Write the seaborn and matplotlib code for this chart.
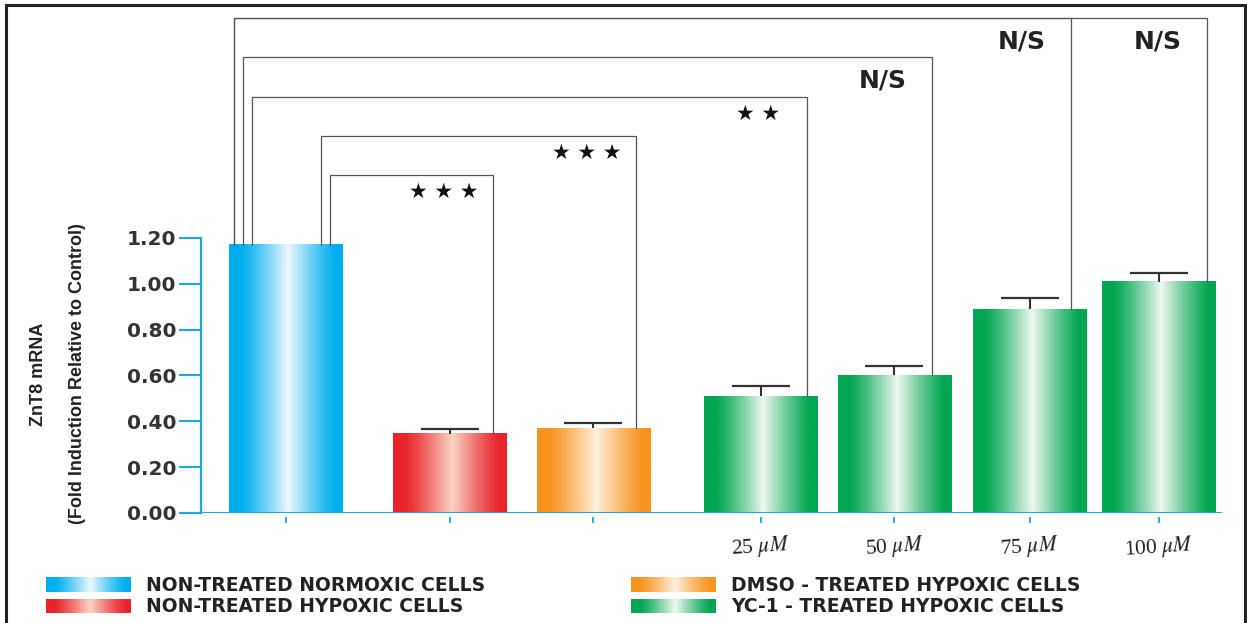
import numpy as np
import pandas as pd
import matplotlib
matplotlib.use("Agg")
import matplotlib.pyplot as plt
import matplotlib.transforms as mtransforms
import seaborn as sns
from matplotlib.patches import Rectangle, Patch
from matplotlib.legend_handler import HandlerBase
from matplotlib.colors import to_rgb
from matplotlib import font_manager

# ---------------- data ----------------
groups = [
    "NON-TREATED NORMOXIC CELLS",
    "NON-TREATED HYPOXIC CELLS",
    "DMSO - TREATED HYPOXIC CELLS",
    "YC-1 - TREATED HYPOXIC CELLS",
]
bar_group = [0, 1, 2, 3, 3, 3, 3]
dose_labels = ["", "", "", r"25 $\mu M$", r"50 $\mu M$", r"75 $\mu M$", r"100 $\mu M$"]
fold_change = [1.17, 0.345, 0.37, 0.51, 0.60, 0.89, 1.01]
sem_upper = [0.0, 0.022, 0.022, 0.043, 0.04, 0.05, 0.036]

# comparisons against the normoxic control (bar index, significance)
compared_bar = [1, 2, 3, 4, 5, 6]
significance = ["★ ★ ★", "★ ★ ★", "★ ★", "N/S", "N/S", "N/S"]

# ---------------- style / layout ----------------
group_colors = ["#00AEEF", "#E8242B", "#F7941E", "#00A651"]
group_light = ["#EEF8FE", "#FBD5C6", "#FEF0DE", "#F0F8F1"]
axis_blue = "#1BA9E1"

slot = [0.0, 1.233, 2.312, 3.568, 4.575, 5.594, 6.564]
bar_width = 0.85
bracket_left = [0.331, 0.263, -0.256, -0.323, -0.391, -0.391]
bracket_right = [0.323, 0.320, 0.349, 0.282, 0.308, 0.361]
bracket_level = [1.475, 1.645, 1.815, 1.99, 2.16, 2.16]

sns.set_theme(style="white")
installed = {f.name for f in font_manager.fontManager.ttflist}
narrow = "Liberation Sans Narrow" if "Liberation Sans Narrow" in installed else "Liberation Sans"
plt.rcParams["font.family"] = ["DejaVu Sans"]
plt.rcParams["mathtext.fontset"] = "stix"


def gradient_colors(edge, light, n):
    t = (np.arange(n) + 0.5) / n
    f = np.clip(1 - np.abs(t - 0.52) / 0.42, 0, 1) ** 1.2
    e = np.array(to_rgb(edge))
    l = np.array(to_rgb(light))
    return e[None, :] * (1 - f[:, None]) + l[None, :] * f[:, None]


class GradientPatchHandler(HandlerBase):
    def __init__(self, edge, light, n=60):
        super().__init__()
        self.edge, self.light, self.n = edge, light, n

    def create_artists(self, legend, orig_handle, xdescent, ydescent,
                       width, height, fontsize, trans):
        cols = gradient_colors(self.edge, self.light, self.n)
        step = width / self.n
        return [Rectangle((-xdescent + i * step, -ydescent), step * 1.3, height,
                          facecolor=c, edgecolor="none", lw=0, transform=trans)
                for i, c in enumerate(cols)]


W, H = 1247, 623
fig = plt.figure(figsize=(W / 100, H / 100), dpi=100)
fig.patch.set_facecolor("white")
ax = fig.add_axes([201 / W, 110 / H, 1021 / W, 503 / H])

df = pd.DataFrame({
    "pos": slot,
    "fold": fold_change,
    "group": [groups[g] for g in bar_group],
})
sns.barplot(data=df, x="pos", y="fold", hue="group", hue_order=groups,
            palette=group_colors, native_scale=True, dodge=False,
            width=bar_width / np.min(np.diff(slot)), errorbar=None,
            saturation=1, legend=False, ax=ax)

# shaded cylinder-like fill for every bar
for p in list(ax.patches):
    x0, w, h = p.get_x(), p.get_width(), p.get_height()
    i = int(np.argmin(np.abs(np.array(slot) - (x0 + w / 2))))
    g = bar_group[i]
    img = gradient_colors(group_colors[g], group_light[g], 240)[None, :, :]
    ax.imshow(img, extent=[x0, x0 + w, 0, h], aspect="auto",
              interpolation="bilinear", zorder=p.get_zorder())
    p.set_facecolor("none")
    p.set_edgecolor("none")

# upper error bars (cap only at the top end)
idx = [i for i, s in enumerate(sem_upper) if s > 0]
tops = np.array([fold_change[i] for i in idx])
_, caps, _ = ax.errorbar([slot[i] for i in idx], tops,
                         yerr=[np.zeros(len(idx)), [sem_upper[i] for i in idx]],
                         fmt="none", ecolor="#333333", elinewidth=1.5,
                         capsize=21, capthick=1.6, zorder=4)
for cl in caps:
    if np.allclose(np.asarray(cl.get_ydata(), dtype=float), tops):
        cl.set_visible(False)

# significance brackets
for k, bi in enumerate(compared_bar):
    xl = slot[0] + bracket_left[k]
    xr = slot[bi] + bracket_right[k]
    lvl = bracket_level[k]
    ax.plot([xl, xl, xr, xr], [fold_change[0], lvl, lvl, fold_change[bi]],
            color="#555555", lw=0.9, zorder=3, solid_joinstyle="miter")
    label = significance[k]
    if label == "N/S":
        ax.text(xr - 0.37, lvl - 0.105, label, ha="center", va="center",
                fontsize=18, fontweight="bold", color="#222222")
    else:
        ax.text(xr - 0.37, lvl - 0.075, label, ha="center", va="center",
                fontsize=15, color="#111111")

# axes
ax.set_xlim(-0.639, 7.038)
ax.set_ylim(0, 503 / 229.2)
ax.set_xlabel("")
ax.set_ylabel("")
ax.tick_params(axis="y", left=True, direction="out", length=16, width=1.5,
               color=axis_blue, pad=2, labelsize=14.5, labelcolor="#333333")
ax.tick_params(axis="x", bottom=True, direction="out", length=4.5, width=1.3,
               color=axis_blue, pad=7, labelsize=15.5, labelrotation=4,
               labelcolor="#222222", labelfontfamily="Liberation Serif")
ax.set_yticks(np.arange(0, 1.21, 0.2))
ax.set_yticklabels([f"{v:.2f}" for v in np.arange(0, 1.21, 0.2)],
                   fontweight="bold")
ax.set_xticks(slot)
ax.set_xticklabels(dose_labels, fontsize=15.5, family="Liberation Serif",
                   rotation=4)
shift = mtransforms.ScaledTranslation(10 / 100, 0, fig.dpi_scale_trans)
for lbl in ax.get_xticklabels():
    lbl.set_transform(lbl.get_transform() + shift)

for s in ["top", "right"]:
    ax.spines[s].set_visible(False)
ax.spines["left"].set_color(axis_blue)
ax.spines["left"].set_linewidth(1.6)
ax.spines["left"].set_bounds(0, 1.2)
ax.spines["bottom"].set_position(("outward", 3))
ax.spines["bottom"].set_visible(False)
ax.axhline(0, color=axis_blue, lw=2.2, zorder=5)

# y-axis title
fig.text(58 / W, 1 - 374 / H, "ZnT8 mRNA\n(Fold Induction Relative to Control)",
         rotation=90, ha="center", va="center", fontsize=13,
         fontweight="bold", family=narrow, linespacing=2.7, color="#222222")

# legend in two columns
handles = [Patch(facecolor=c, label=g) for c, g in zip(group_colors, groups)]
hmap = {h: GradientPatchHandler(c, l) for h, c, l in zip(handles, group_colors, group_light)}
fs = 13.5
px = fs * 100 / 72
for col, x_anchor in enumerate([46 / W, 631 / W]):
    hs = handles[2 * col: 2 * col + 2]
    leg = fig.legend(hs, [h.get_label() for h in hs], loc="upper left",
                     bbox_to_anchor=(x_anchor, 1 - 576 / H), ncol=1,
                     frameon=False, handler_map=hmap,
                     prop={"weight": "bold", "size": fs},
                     handlelength=85 / px, handleheight=15 / px,
                     handletextpad=0.8, labelspacing=0.12,
                     borderpad=0, borderaxespad=0)
    for t in leg.get_texts():
        t.set_color("#222222")

# outer frame
fig.patches.append(Rectangle((6 / W, -0.05), 1239 / W, 1.05 - 5 / H,
                             transform=fig.transFigure, fill=False,
                             edgecolor="#222222", lw=2.2, clip_on=False))

fig.savefig("out.png", dpi=100, facecolor="white")
